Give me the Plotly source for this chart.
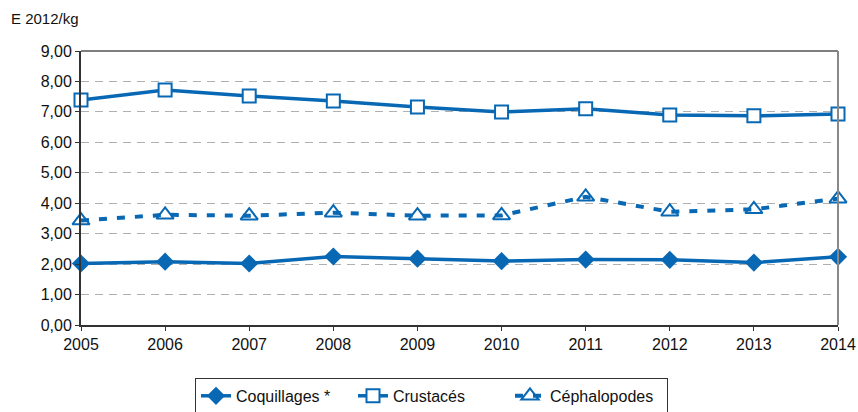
import plotly.graph_objects as go

years = [2005, 2006, 2007, 2008, 2009, 2010, 2011, 2012, 2013, 2014]
coquillages = [2.02, 2.08, 2.02, 2.25, 2.18, 2.10, 2.15, 2.14, 2.05, 2.24]
crustaces = [7.39, 7.72, 7.52, 7.36, 7.16, 7.00, 7.10, 6.90, 6.87, 6.93]
cephalopodes = [3.43, 3.62, 3.59, 3.69, 3.59, 3.60, 4.21, 3.72, 3.80, 4.15]
y_ticks = [0, 1, 2, 3, 4, 5, 6, 7, 8, 9]
y_labels = ["0,00", "1,00", "2,00", "3,00", "4,00", "5,00", "6,00", "7,00", "8,00", "9,00"]

blue = "#0868b4"
font = "Liberation Sans, Arial, sans-serif"

fig = go.Figure()
fig.add_trace(go.Scatter(
    x=years, y=coquillages, name="Coquillages *", mode="lines+markers",
    line=dict(color=blue, width=3.5),
    marker=dict(symbol="diamond", size=14, color=blue),
    cliponaxis=False,
))
fig.add_trace(go.Scatter(
    x=years, y=crustaces, name="Crustacés", mode="lines+markers",
    line=dict(color=blue, width=3.5),
    marker=dict(symbol="square", size=13, color="white", line=dict(color=blue, width=2)),
    cliponaxis=False,
))
fig.add_trace(go.Scatter(
    x=years, y=cephalopodes, name="Céphalopodes", mode="lines+markers",
    line=dict(color=blue, width=4, dash="8px,10px"),
    marker=dict(symbol="triangle-up-open", size=15, color=blue, line=dict(width=2)),
    cliponaxis=False,
))

fig.update_layout(
    width=858, height=412,
    margin=dict(l=81, r=20, t=51, b=87, autoexpand=False),
    paper_bgcolor="white", plot_bgcolor="white",
    font=dict(family=font, size=16, color="#111111"),
    showlegend=True,
    legend=dict(
        orientation="h", x=0.463, xanchor="center", y=-0.193, yanchor="top",
        bordercolor="#333333", borderwidth=1,
        font=dict(size=16, family=font, color="#111111"),
        tracegroupgap=0, entrywidth=112,
    ),
    xaxis=dict(
        range=[2005, 2014], tickmode="array", tickvals=years,
        ticks="outside", ticklen=4, tickcolor="#333333",
        showline=True, linecolor="#333333", linewidth=2,
        showgrid=False, zeroline=False, mirror=False, automargin=False,
        tickfont=dict(size=16),
    ),
    yaxis=dict(
        range=[0, 9], tickmode="array", tickvals=y_ticks, ticktext=y_labels,
        ticks="outside", ticklen=4, tickcolor="#333333",
        showline=True, linecolor="#333333", linewidth=2,
        showgrid=True, gridcolor="#b0b0b0", griddash="8px,6px", gridwidth=1,
        zeroline=False, automargin=False, tickfont=dict(size=16),
    ),
    annotations=[dict(
        text="E 2012/kg", xref="paper", yref="paper", x=0, y=1,
        xshift=-72, yshift=22, xanchor="left", yanchor="bottom",
        showarrow=False, font=dict(size=15, family=font, color="#111111"),
    )],
    shapes=[
        dict(type="line", xref="paper", yref="paper", x0=0, x1=1, y0=1, y1=1,
             line=dict(color="#555555", width=1.5)),
        dict(type="line", xref="paper", yref="paper", x0=1, x1=1, y0=0, y1=1,
             line=dict(color="#888888", width=2)),
    ],
)

fig.write_html("out.html")
